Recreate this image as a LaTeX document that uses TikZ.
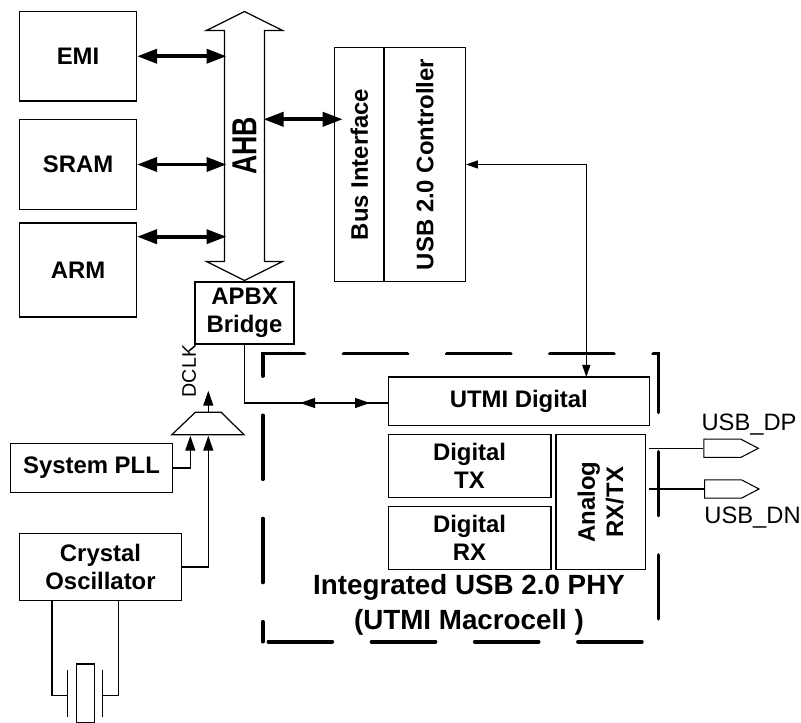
\documentclass[tikz,border=0pt]{standalone}
\usepackage{fontspec}
\setmainfont{Liberation Sans}
\usetikzlibrary{arrows.meta,shapes.arrows,shapes.geometric,shapes.symbols}
\tikzset{
    blk/.style={draw, line width=0.35pt, inner sep=0pt, align=center, font=\fontsize{6.8}{8}\selectfont\bfseries},
    phy/.style={blk, line width=0.45pt},
    pin/.style={draw, line width=0.3pt, signal, signal to=east, anchor=west, inner sep=0pt, minimum width=0.545cm, minimum height=0.183cm, signal pointer angle=55},
    wire/.style={line width=0.35pt},
    busarrow/.style={{Triangle[length=0.2cm,width=0.14cm]}-{Triangle[length=0.2cm,width=0.14cm]}, line width=0.037cm},
    clkarrow/.style={-{Triangle[length=0.15cm,width=0.1cm]}, line width=0.35pt},
    linkarrow/.style={{Triangle[length=0.15cm,width=0.1cm]}-{Triangle[length=0.15cm,width=0.1cm]}, line width=0.35pt},
    ctrlarrow/.style={{Triangle[length=0.12cm,width=0.08cm]}-{Triangle[length=0.12cm,width=0.08cm]}, line width=0.35pt},
    pinlabel/.style={font=\fontsize{6.75}{8}\selectfont}
}
\begin{document}
\begin{tikzpicture}[x=1cm, y=-1cm]
    \useasboundingbox (0,0) rectangle (8.01,7.23);
    \foreach \nm/\y/\h/\lab in {emi/0.5625/0.895/EMI, sram/1.645/0.90/SRAM, arm/2.70/0.94/ARM} {
        \node[blk, minimum width=1.17cm, minimum height=\h cm] (\nm) at (0.78,\y) {\lab};
    }
    \node[draw, line width=0.35pt, double arrow, rotate=90, inner xsep=0pt, inner ysep=0.075cm, minimum height=2.69cm, minimum width=0.72cm,
        double arrow head extend=0.18cm, double arrow tip angle=127, font=\fontsize{7.6}{9}\selectfont\bfseries] (ahb) at (2.445,1.46) {\scalebox{1}[1.3]{AHB}};
    \coordinate (ahbleft) at (2.265,1.0);
    \coordinate (ahbright) at (2.635,1.193);
    \coordinate (armport) at (1.37,2.367);
    \coordinate (busport) at (3.427,1.193);
    \node[blk, minimum width=2.336cm, minimum height=0.497cm, rotate=90] (busif) at (3.592,1.645) {Bus Interface};
    \node[blk, minimum width=2.336cm, minimum height=0.813cm, rotate=90] (ctrl) at (4.247,1.645) {USB 2.0 Controller};
    \node[blk, line width=0.6pt, minimum width=0.996cm, minimum height=0.626cm] (apbx) at (2.445,3.13) {APBX\\Bridge};
    \draw[busarrow] (emi.east) -- (emi.east -| ahbleft);
    \draw[busarrow] (sram.east) -- (sram.east -| ahbleft);
    \draw[busarrow] (armport) -- (armport -| ahbleft);
    \draw[busarrow] (ahbright) -- (busport);
    \node[phy, minimum width=2.61cm, minimum height=0.487cm] (utmi) at (5.188,4.013) {UTMI Digital};
    \node[phy, minimum width=1.624cm, minimum height=0.626cm] (dtx) at (4.695,4.66) {Digital\\TX};
    \node[phy, minimum width=1.624cm, minimum height=0.634cm] (drx) at (4.695,5.38) {Digital\\RX};
    \node[phy, minimum width=1.35cm, minimum height=0.896cm, rotate=90] (analog) at (6.005,5.022) {Analog\\RX/TX};
    \draw[line width=0.036cm, line cap=round, dash pattern=on 0.64cm off 0.392cm, dash phase=0.44cm]
        (2.627,6.417) -- (2.627,3.537) -- (6.583,3.537) -- (6.583,6.417) -- cycle;
    \node[font=\fontsize{7.9}{10}\selectfont\bfseries, align=center] (phylab) at (4.69,6.045) {Integrated USB 2.0 PHY\\(UTMI Macrocell )};
    \coordinate (ctrlport) at (5.863,3.77);
    \draw[ctrlarrow] (ctrl.south) -| (ctrlport);
    \coordinate (utmiport) at (3.883,4.03);
    \draw[wire] (apbx.south) |- (utmiport);
    \coordinate (linkl) at (3.0,4.03);
    \coordinate (linkr) at (3.7,4.03);
    \draw[linkarrow] (linkl) -- (linkr);
    \node[draw, line width=0.35pt, trapezium, trapezium stretches=true, trapezium left angle=48, trapezium right angle=49, inner sep=0.3pt,
        minimum width=0.72cm, minimum height=0.224cm] (mux) at (2.083,4.235) {};
    \node[blk, minimum width=1.624cm, minimum height=0.486cm] (pll) at (0.915,4.68) {System PLL};
    \node[blk, minimum width=1.624cm, minimum height=0.666cm] (osc) at (1.005,5.67) {Crystal\\Oscillator};
    \coordinate (muxa) at (1.903,4.357);
    \coordinate (muxb) at (2.083,4.357);
    \coordinate (clkout) at (2.083,3.907);
    \draw[clkarrow] (pll.east) -| (muxa);
    \draw[clkarrow] (osc.east) -| (muxb);
    \draw[clkarrow] (mux.north) -- (clkout);
    \node[pinlabel, font=\fontsize{5.6}{7}\selectfont, rotate=90] (dclk) at (1.89,3.71) {DCLK};
    \node[draw, line width=0.35pt, inner sep=0pt, minimum width=0.18cm, minimum height=0.583cm] (xtal) at (0.853,6.932) {};
    \coordinate (platel) at (0.677,6.957);
    \coordinate (plater) at (1.027,6.957);
    \coordinate (wirel) at (0.52,6.003);
    \coordinate (wirer) at (1.183,6.003);
    \draw[wire] (wirel) |- (platel);
    \draw[wire] (wirer) |- (plater);
    \draw[wire] (0.677,6.70) -- (0.677,7.167);
    \draw[wire] (1.027,6.70) -- (1.027,7.167);
    \node[pin] (dp) at (7.033,4.483) {};
    \node[pin] (dn) at (7.04,4.89) {};
    \coordinate (dpstart) at (6.493,4.483);
    \coordinate (dnstart) at (6.493,4.89);
    \draw[wire] (dpstart) -- (dp.west);
    \draw[wire] (dnstart) -- (dn.west);
    \node[pinlabel] (dplab) at (7.49,4.25) {USB\_DP};
    \node[pinlabel] (dnlab) at (7.525,5.18) {USB\_DN};
\end{tikzpicture}
\end{document}
